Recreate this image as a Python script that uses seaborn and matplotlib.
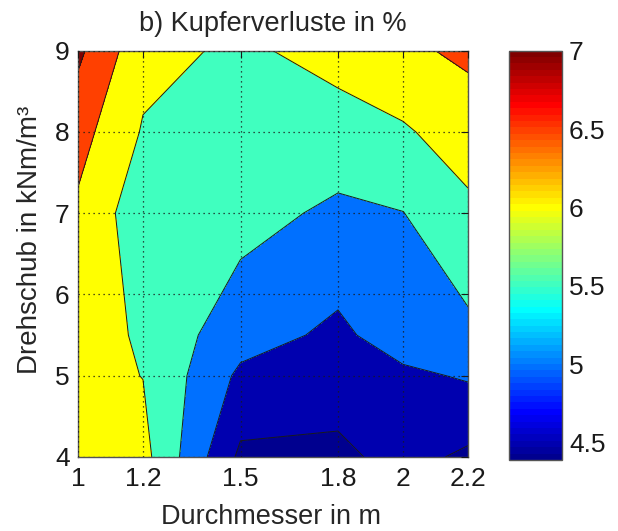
import numpy as np
import matplotlib
matplotlib.use("Agg")
import matplotlib.pyplot as plt
import seaborn as sns
from matplotlib.colors import ListedColormap, Normalize
from matplotlib.cm import ScalarMappable

# ---- data ----
durchmesser = [1.0, 1.2, 1.5, 1.8, 2.0, 2.2]          # m
drehschub = [4.0, 5.0, 5.5, 7.0, 8.0, 9.0]            # kNm/m^3
verluste_d4 = [6.20, 6.158, 4.40, 4.39, 4.667, 4.41]
verluste_d5 = [6.152, 5.992, 4.90, 4.734, 4.90, 5.05]
verluste_d55 = [6.427, 5.876, 5.2125, 4.895, 5.257, 5.382]
verluste_d7 = [6.411, 5.696, 5.676, 5.403, 5.49, 5.89]
verluste_d8 = [6.689, 5.959, 5.80, 5.791, 5.939, 6.246]
verluste_d9 = [7.104, 6.153, 5.911, 6.178, 6.406, 6.594]
contour_levels = [4.385, 4.5, 5.0, 5.5, 6.0, 6.5, 7.0, 7.2]
cbar_ticks = [4.5, 5.0, 5.5, 6.0, 6.5, 7.0]
x_ticks = [1.0, 1.2, 1.5, 1.8, 2.0, 2.2]
y_ticks = [4, 5, 6, 7, 8, 9]
c_min, c_max = 4.39, 7.0

sns.set_theme(style="white")
plt.rcParams['font.family'] = ['Liberation Sans', 'DejaVu Sans']


def matlab_jet(m=64):
    n = int(np.ceil(m / 4))
    u = np.concatenate([np.arange(1, n + 1) / n, np.ones(n - 1), np.arange(n, 0, -1) / n])
    g = int(np.ceil(n / 2)) - int(m % 4 == 1) + np.arange(1, len(u) + 1)
    r = g + n
    b = g - n
    J = np.zeros((m, 3))
    for col, idx in ((0, r), (1, g), (2, b)):
        mask = (idx >= 1) & (idx <= m)
        J[idx[mask] - 1, col] = u[mask]
    return J


jet = matlab_jet(64)
cmap = ListedColormap(jet)
fill_colors = []
for lv in contour_levels[:-1]:
    i = int(np.floor((lv - c_min) / (c_max - c_min) * 64))
    fill_colors.append(jet[min(max(i, 0), 63)])

Z = np.array([verluste_d4, verluste_d5, verluste_d55, verluste_d7, verluste_d8, verluste_d9])
X, Y = np.meshgrid(durchmesser, drehschub)

W, H = 618, 531
fig = plt.figure(figsize=(W / 100, H / 100), dpi=100)
fig.patch.set_facecolor('white')

ax = fig.add_axes([78 / W, 1 - 457 / H, 390 / W, 406.3 / H])
ax.contourf(X, Y, Z, levels=contour_levels, colors=fill_colors)
ax.contour(X, Y, Z, levels=contour_levels[1:-1], colors='k', linewidths=0.7)
ax.set_xlim(1.0, 2.2)
ax.set_ylim(4, 9)
ax.set_xticks(x_ticks)
ax.set_xticklabels(['%g' % v for v in x_ticks])
ax.set_yticks(y_ticks)
ax.set_yticklabels(['%g' % v for v in y_ticks])
ax.grid(True, linestyle=(0, (1, 3)), color='k', linewidth=0.9)
ax.set_axisbelow(False)
ax.tick_params(axis='both', direction='in', length=5, width=0.8, colors='k',
               labelsize=19, top=True, right=True, pad=6)
ax.tick_params(axis='x', pad=7)
for sp in ax.spines.values():
    sp.set_color('#555555')
    sp.set_linewidth(1.0)

cax = fig.add_axes([508.5 / W, 1 - 460 / H, 53.5 / W, 409.3 / H])
sm = ScalarMappable(norm=Normalize(c_min, c_max), cmap=cmap)
cb = fig.colorbar(sm, cax=cax, ticks=cbar_ticks)
cb.ax.set_yticklabels(['%g' % v for v in cbar_ticks])
cb.outline.set_edgecolor('#555555')
cb.outline.set_linewidth(1.0)
cax.yaxis.set_ticks_position('both')
cax.yaxis.set_label_position('right')
cax.tick_params(axis='y', direction='in', length=5, width=0.8, colors='k',
                labelsize=19, labelleft=False, labelright=True, pad=5)

fig.text(273 / W, 1 - 31 / H, 'b) Kupferverluste in %', ha='center', va='baseline', fontsize=19.5)
fig.text(271 / W, 1 - 524 / H, 'Durchmesser in m', ha='center', va='baseline', fontsize=19.5)
fig.text(30 / W, 1 - 240 / H, 'Drehschub in kNm/m³', ha='center', va='center',
         rotation=90, fontsize=20)

fig.savefig('out.png', dpi=100)
